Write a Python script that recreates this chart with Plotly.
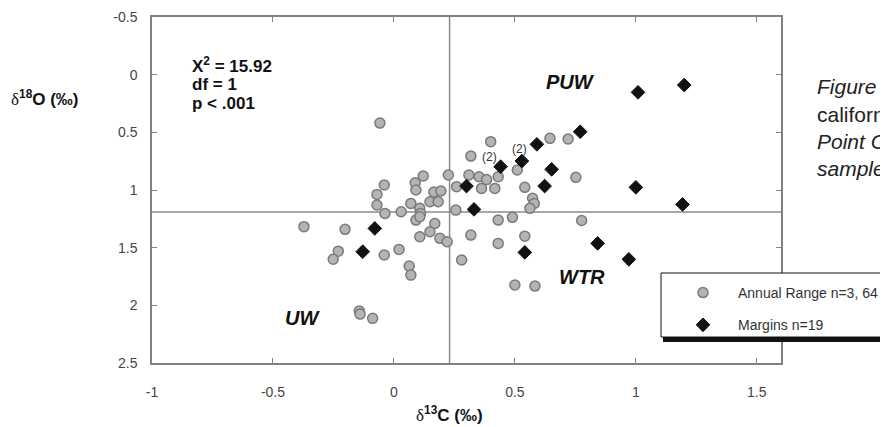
import plotly.graph_objects as go

# Annual range samples (delta13C, delta18O)
annual_d13c = [-0.058, -0.040, -0.070, -0.070, -0.037, 0.030, 0.070, 0.088, 0.091, 0.121,
               0.107, 0.110, 0.091, 0.149, 0.165, 0.194, 0.183, 0.225, 0.256, 0.259,
               0.169, 0.149, 0.107, 0.190, 0.220, 0.021, -0.040, 0.063, 0.070, -0.202,
               -0.230, -0.251, -0.372, -0.143, -0.140, -0.088, 0.280, 0.318, 0.431, 0.431,
               0.490, 0.500, 0.583, 0.310, 0.352, 0.383, 0.362, 0.417, 0.400, 0.318,
               0.645, 0.720, 0.510, 0.431, 0.541, 0.752, 0.573, 0.580, 0.562, 0.776,
               0.541, 0.107]
annual_d18o = [0.42, 0.957, 1.038, 1.130, 1.203, 1.189, 1.116, 0.937, 1.000, 0.879,
               1.159, 1.203, 1.261, 1.102, 1.018, 1.009, 1.102, 0.870, 1.174, 0.971,
               1.290, 1.362, 1.405, 1.419, 1.449, 1.515, 1.564, 1.660, 1.738, 1.341,
               1.530, 1.600, 1.318, 2.050, 2.076, 2.113, 1.607, 1.391, 1.261, 1.463,
               1.237, 1.824, 1.833, 0.870, 0.885, 0.910, 0.986, 0.986, 0.581, 0.706,
               0.552, 0.558, 0.827, 0.885, 0.977, 0.890, 1.072, 1.116, 1.159, 1.264,
               1.400, 1.232]

# Margin samples
margin_d13c = [1.009, 1.200, 0.770, 0.591, 0.529, 0.441, 0.652, 0.300, 0.623, 1.000,
               0.331, 1.193, -0.079, -0.129, 0.541, 0.842, 0.971]
margin_d18o = [0.153, 0.090, 0.495, 0.604, 0.749, 0.798, 0.821, 0.966, 0.966, 0.977,
               1.168, 1.125, 1.333, 1.535, 1.541, 1.463, 1.601]

x_ticks = [-1, -0.5, 0, 0.5, 1, 1.5]
x_tick_text = ["-1", "-0.5", "0", "0.5", "1", "1.5"]
y_ticks = [-0.5, 0, 0.5, 1, 1.5, 2, 2.5]
y_tick_text = ["-0.5", "0", "0.5", "1", "1.5", "2", "2.5"]

mean_d13c = 0.23
mean_d18o = 1.19

FONT = "Arial, 'Liberation Sans', sans-serif"
# page body has an 8px margin; figure sized to fit the 888x427 window
OFF = 8
W, H = 888 - OFF, 427 - OFF
PL, PT, PR, PB = 152, 17, 781, 363          # plot area in screen pixels
ML, MT = PL - OFF, PT - OFF
PW, PH = PR - PL, PB - PT
MR, MB = W - ML - PW, H - MT - PH


def px(xs):
    return (xs - PL) / PW


def py(ys):
    return (PB - ys) / PH


fig = go.Figure()
fig.add_trace(go.Scatter(
    x=annual_d13c, y=annual_d18o, mode="markers", name="Annual Range n=3, 64",
    legendgroup="a",
    marker=dict(symbol="circle", size=10, color="#b4b4b4",
                line=dict(color="#7a7a7a", width=1.5))))
fig.add_trace(go.Scatter(
    x=margin_d13c, y=margin_d18o, mode="markers", name="Margins n=19",
    legendgroup="b",
    marker=dict(symbol="diamond", size=10.5, color="#111111",
                line=dict(color="#111111", width=1))))

shapes = [
    dict(type="line", xref="x", yref="paper", x0=mean_d13c, x1=mean_d13c, y0=0, y1=1,
         line=dict(color="#8a8a8a", width=1.5), layer="below"),
    dict(type="line", xref="paper", yref="y", x0=0, x1=1, y0=mean_d18o, y1=mean_d18o,
         line=dict(color="#8a8a8a", width=1.5), layer="below"),
    # legend shadow and box
    dict(type="rect", xref="paper", yref="paper", x0=px(663), x1=px(960), y0=py(342), y1=py(277),
         fillcolor="#111111", line=dict(width=0), layer="above"),
    dict(type="rect", xref="paper", yref="paper", x0=px(661), x1=px(950), y0=py(337), y1=py(273),
         fillcolor="white", line=dict(color="#111111", width=1), layer="above"),
]

ann = []
stat_lines = ["Χ<sup>2</sup> = 15.92", "df = 1", "p < .001"]
stat_y = [-0.084, 0.081, 0.246]
for t, yy in zip(stat_lines, stat_y):
    ann.append(dict(x=-0.843, y=yy, xref="x", yref="y", text="<b>" + t + "</b>",
                    showarrow=False, xanchor="left", yanchor="middle",
                    font=dict(family=FONT, size=17, color="#111")))
for t, xx, yy in [("PUW", 0.731, 0.064), ("WTR", 0.777, 1.755), ("UW", -0.376, 2.11)]:
    ann.append(dict(x=xx, y=yy, xref="x", yref="y", text="<b><i>" + t + "</i></b>",
                    showarrow=False, xanchor="center", yanchor="middle",
                    font=dict(family=FONT, size=20, color="#111")))
for xx, yy in [(0.394, 0.712), (0.518, 0.645)]:
    ann.append(dict(x=xx, y=yy, xref="x", yref="y", text="(2)", showarrow=False,
                    font=dict(family=FONT, size=12, color="#333")))

dspan = "<span style='font-family:\"Liberation Serif\", serif; font-weight:normal'>δ</span>"
ann.append(dict(x=px(45), y=py(98), xref="paper", yref="paper",
                text="<b>" + dspan + "<sup>18</sup>O (‰)</b>", showarrow=False,
                xanchor="center", yanchor="middle", font=dict(family=FONT, size=17, color="#111")))
ann.append(dict(x=px(449), y=py(414), xref="paper", yref="paper",
                text="<b>" + dspan + "<sup>13</sup>C (‰)</b>", showarrow=False,
                xanchor="center", yanchor="middle", font=dict(family=FONT, size=17, color="#111")))

side_lines = [("<i>Figure 6. Oxygen and carbon</i>", 87), ("californianus shells from", 114),
              ("<i>Point Conception</i>", 141), ("<i>samples</i>", 168)]
for t, yy in side_lines:
    ann.append(dict(x=px(815), y=py(yy), xref="paper", yref="paper", text=t, showarrow=False,
                    xanchor="left", yanchor="middle", font=dict(family=FONT, size=21, color="#222")))

axis_common = dict(showline=True, linecolor="#808080", linewidth=1.5, mirror="ticks",
                   ticks="inside", ticklen=5, tickcolor="#808080", tickwidth=1,
                   showgrid=False, zeroline=False, automargin=False,
                   tickfont=dict(family=FONT, size=14, color="#444"))

fig.update_layout(
    width=W, height=H,
    margin=dict(l=ML, r=MR, t=MT, b=MB, autoexpand=False),
    paper_bgcolor="white", plot_bgcolor="white",
    xaxis=dict(range=[-1, 1.6], tickvals=x_ticks, ticktext=x_tick_text,
               ticklabelstandoff=15, **axis_common),
    yaxis=dict(range=[2.5, -0.5], tickvals=y_ticks, ticktext=y_tick_text,
               ticklabelstandoff=10, **axis_common),
    shapes=shapes,
    annotations=ann,
    showlegend=True,
    legend=dict(x=px(668), y=py(277), xanchor="left", yanchor="top",
                bgcolor="rgba(0,0,0,0)", borderwidth=0, itemwidth=60,
                traceorder="grouped", tracegroupgap=11,
                font=dict(family=FONT, size=14, color="#333")),
)

fig.write_html("out.html")
